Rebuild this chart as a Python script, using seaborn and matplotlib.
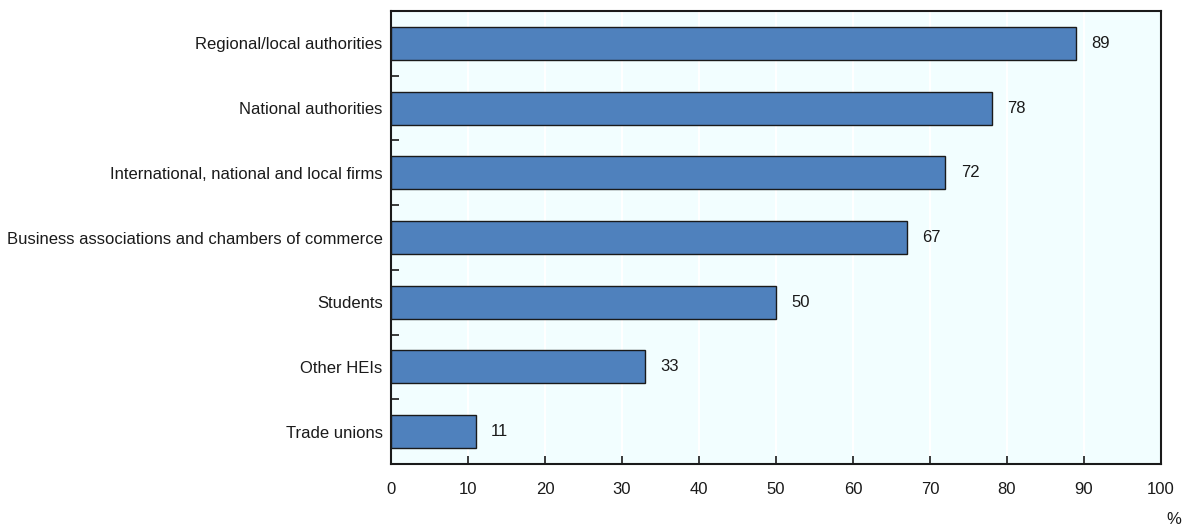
import matplotlib
matplotlib.use("Agg")
import matplotlib.pyplot as plt
from matplotlib import font_manager
from matplotlib.ticker import FixedLocator
import seaborn as sns
import pandas as pd

categories = [
    "Regional/local authorities",
    "National authorities",
    "International, national and local firms",
    "Business associations and chambers of commerce",
    "Students",
    "Other HEIs",
    "Trade unions",
]
shares = [89, 78, 72, 67, 50, 33, 11]
x_ticks = [0, 10, 20, 30, 40, 50, 60, 70, 80, 90, 100]
unit_label = "%"

sns.set_theme(style="white")
names = {f.name for f in font_manager.fontManager.ttflist}
family = "Liberation Sans Narrow" if "Liberation Sans Narrow" in names else "Liberation Sans"
fs = 14 if family == "Liberation Sans Narrow" else 12
plt.rcParams["font.family"] = [family, "DejaVu Sans"]
plt.rcParams["text.color"] = "#1a1a1a"

W, H = 1182, 527
fig = plt.figure(figsize=(W / 100, H / 100), dpi=100)
ax = fig.add_axes([391 / W, 1 - 464 / H, (1161 - 391) / W, (464 - 11) / H])
ax.set_facecolor("#F2FEFF")

df = pd.DataFrame({"category": categories, "share": shares})
sns.barplot(data=df, x="share", y="category", orient="h", color="#4F81BD",
            saturation=1, edgecolor="#1a1a1a", linewidth=1.0, width=0.51, ax=ax, zorder=3)

for c in ax.containers:
    ax.bar_label(c, labels=[f"{v:g}" for v in shares], padding=11, fontsize=fs, color="#1a1a1a")

ax.set_xlim(0, 100)
ax.set_ylim(len(categories) - 0.5, -0.5)
ax.set_xticks(x_ticks)
ax.set_xticklabels([str(t) for t in x_ticks])
ax.xaxis.grid(True, color="white", linewidth=1.5, zorder=0)
ax.yaxis.grid(False)
ax.set_axisbelow(True)
ax.set_xlabel("")
ax.set_ylabel("")

ax.tick_params(axis="x", which="major", direction="in", length=6, width=1.2,
               color="#1a1a1a", pad=13, labelsize=fs, labelcolor="#1a1a1a", bottom=True)
ax.tick_params(axis="y", which="major", length=0, pad=6, labelsize=fs, labelcolor="#1a1a1a")
ax.yaxis.set_minor_locator(FixedLocator([i + 0.5 for i in range(len(categories) - 1)]))
ax.tick_params(axis="y", which="minor", direction="in", length=6, width=1.2,
               color="#1a1a1a", left=True)

for s in ax.spines.values():
    s.set_visible(True)
    s.set_color("#1a1a1a")
    s.set_linewidth(1.5)

fig.text(1166 / W, 1 - 519 / H, unit_label, fontsize=fs, va="center", ha="left", color="#1a1a1a")

fig.savefig("out.png", dpi=100, facecolor="white")
